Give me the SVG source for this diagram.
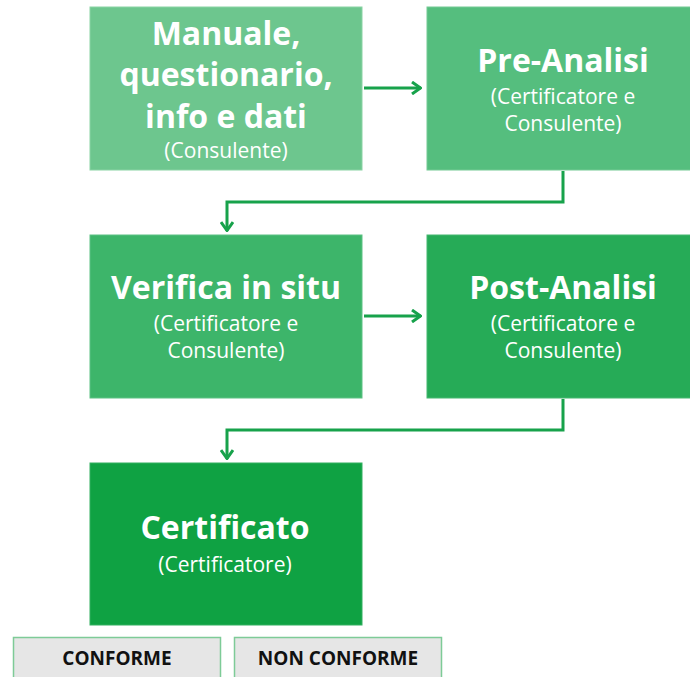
<svg xmlns="http://www.w3.org/2000/svg" width="690" height="677" viewBox="0 0 690 677">
<style>
.title{font-family:"Open Sans","Liberation Sans",sans-serif;font-weight:700;font-size:32px;fill:#fff;text-anchor:middle}
.sub{font-family:"Open Sans","Liberation Sans",sans-serif;font-weight:400;font-size:21px;fill:#fff;text-anchor:middle}
.lbl{font-family:"Open Sans","Liberation Sans",sans-serif;font-weight:700;font-size:19px;fill:#111;text-anchor:middle}
.conn{fill:none;stroke:#17A24B;stroke-width:3}
.gray{fill:#E6E6E6;stroke:#7ECB97;stroke-width:1.5}
</style>
<defs>
<marker id="arr" viewBox="0 0 12 14" refX="11" refY="7" markerWidth="12" markerHeight="14" markerUnits="userSpaceOnUse" orient="auto">
<polyline points="2,1 10.5,7 2,13" fill="none" stroke="#17A24B" stroke-width="3"/>
</marker>
</defs>
<rect width="690" height="677" fill="#fff"/>
<g id="manuale">
<rect x="90" y="7" width="272" height="163" fill="#6DC68E" stroke="#8AD3A4" stroke-width="1"/>
<text class="title" x="226" y="45">Manuale,</text>
<text class="title" x="226" y="86">questionario,</text>
<text class="title" x="226" y="128">info e dati</text>
<text class="sub" x="226" y="158">(Consulente)</text>
</g>
<g id="pre-analisi">
<rect x="427" y="7" width="264" height="163" fill="#55BE7E" stroke="#74CA94" stroke-width="1"/>
<text class="title" x="563" y="72">Pre-Analisi</text>
<text class="sub" x="563" y="104">(Certificatore e</text>
<text class="sub" x="563" y="131">Consulente)</text>
</g>
<g id="verifica">
<rect x="90" y="235" width="272" height="163" fill="#3DB56A" stroke="#5DC283" stroke-width="1"/>
<text class="title" x="226" y="299">Verifica in situ</text>
<text class="sub" x="226" y="331">(Certificatore e</text>
<text class="sub" x="226" y="358">Consulente)</text>
</g>
<g id="post-analisi">
<rect x="427" y="235" width="264" height="163" fill="#26AB57" stroke="#45B870" stroke-width="1"/>
<text class="title" x="563" y="299">Post-Analisi</text>
<text class="sub" x="563" y="331">(Certificatore e</text>
<text class="sub" x="563" y="358">Consulente)</text>
</g>
<g id="certificato">
<rect x="90" y="463" width="272" height="162" fill="#0FA243" stroke="#33B061" stroke-width="1"/>
<text class="title" x="225" y="539">Certificato</text>
<text class="sub" x="225" y="572">(Certificatore)</text>
</g>
<g id="conforme">
<rect class="gray" x="13.5" y="637.5" width="207" height="45"/>
<text class="lbl" x="117" y="665">CONFORME</text>
</g>
<g id="non-conforme">
<rect class="gray" x="234.5" y="637.5" width="207" height="45"/>
<text class="lbl" x="338" y="665">NON CONFORME</text>
</g>
<g id="connectors">
<line class="conn" x1="364" y1="88" x2="421" y2="88" marker-end="url(#arr)"/>
<polyline class="conn" points="563,171 563,202 227,202 227,231" marker-end="url(#arr)"/>
<line class="conn" x1="364" y1="316" x2="421" y2="316" marker-end="url(#arr)"/>
<polyline class="conn" points="563,399 563,430 227,430 227,459" marker-end="url(#arr)"/>
</g>
</svg>
